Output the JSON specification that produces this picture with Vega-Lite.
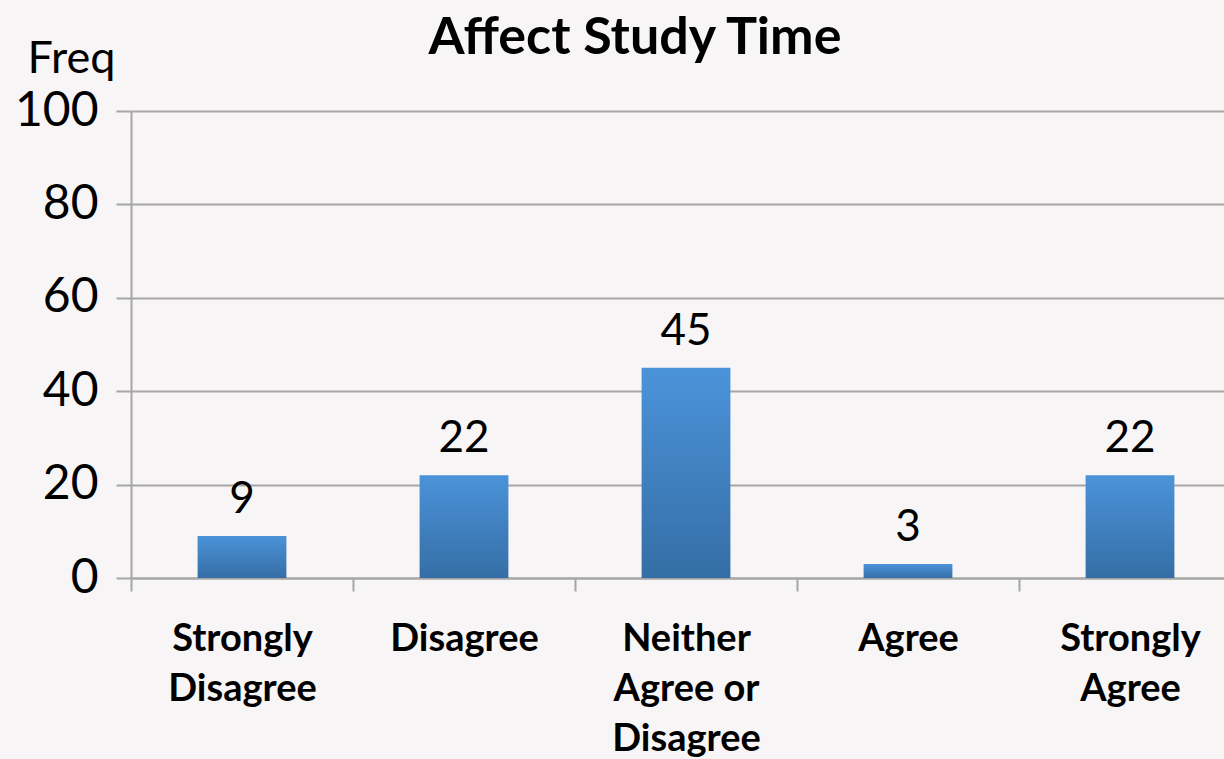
{
  "$schema": "https://vega.github.io/schema/vega-lite/v6.json",
  "width": 1110,
  "height": 467,
  "autosize": {"type": "none"},
  "padding": {"left": 131, "top": 111, "right": 0, "bottom": 181},
  "background": "#f8f5f6",
  "config": {"font": "Lato", "view": {"stroke": null}},
  "title": {
    "text": "Affect Study Time",
    "fontSize": 52,
    "fontWeight": "bold",
    "color": "#000000",
    "anchor": "middle",
    "dx": -51,
    "offset": -29
  },
  "data": {
    "values": [
      {"category": "Strongly Disagree", "freq": 9},
      {"category": "Disagree", "freq": 22},
      {"category": "Neither Agree or Disagree", "freq": 45},
      {"category": "Agree", "freq": 3},
      {"category": "Strongly Agree", "freq": 22}
    ]
  },
  "encoding": {
    "x": {
      "field": "category",
      "type": "nominal",
      "sort": null,
      "scale": {"paddingInner": 0, "paddingOuter": 0},
      "axis": {
        "title": null,
        "labelAngle": 0,
        "labelFontSize": 38,
        "labelFontWeight": "bold",
        "labelColor": "#000000",
        "labelLineHeight": 50,
        "labelPadding": 29,
        "labelExpr": "!isString(datum.value) ? '' : datum.value == 'Neither Agree or Disagree' ? ['Neither', 'Agree or', 'Disagree'] : split(datum.value, ' ')",
        "tickBand": "extent",
        "tickSize": 13,
        "tickColor": "#a6a6a6",
        "tickWidth": 2,
        "domainColor": "#a6a6a6",
        "domainWidth": 2,
        "grid": false
      }
    },
    "y": {
      "field": "freq",
      "type": "quantitative",
      "scale": {"domain": [0, 100]},
      "axis": {
        "values": [0, 20, 40, 60, 80, 100],
        "title": "Freq",
        "titleAngle": 0,
        "titleX": -60,
        "titleY": -53,
        "titleAlign": "center",
        "titleBaseline": "middle",
        "titleFontSize": 45,
        "titleFontWeight": "normal",
        "titleColor": "#000000",
        "labelFontSize": 48,
        "labelColor": "#000000",
        "labelPadding": 18,
        "tickSize": 15,
        "tickColor": "#a6a6a6",
        "tickWidth": 2,
        "domainColor": "#a6a6a6",
        "domainWidth": 2,
        "gridColor": "#a6a6a6",
        "gridWidth": 2
      }
    }
  },
  "layer": [
    {
      "mark": {
        "type": "bar",
        "width": {"band": 0.4},
        "color": {
          "gradient": "linear",
          "x1": 0, "y1": 0, "x2": 0, "y2": 1,
          "stops": [
            {"offset": 0, "color": "#4b93d9"},
            {"offset": 1, "color": "#356ea6"}
          ]
        }
      }
    },
    {
      "mark": {"type": "text", "fontSize": 44, "color": "#000000", "dy": -36, "baseline": "middle"},
      "encoding": {"text": {"field": "freq", "type": "quantitative"}}
    }
  ]
}
